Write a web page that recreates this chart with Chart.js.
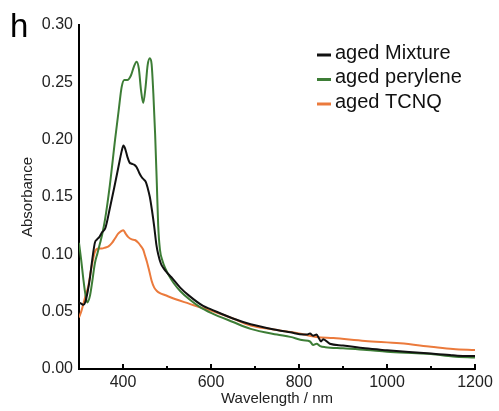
<!DOCTYPE html>
<html lang="en">
<head>
    <meta charset="UTF-8">
    <title>Absorbance spectra</title>
    <script src="https://cdn.jsdelivr.net/npm/chart.js@4.4.0/dist/chart.umd.min.js"></script>
    <style>
        html, body { margin: 0; padding: 0; background: #fff; }
        #wrap { width: 499px; height: 411px; position: relative; }
    </style>
</head>
<body>
    <div id="wrap"><canvas id="absChart"></canvas></div>
    <script>
        // values (wavelength in nm, absorbance)
        const mixtureNm = [300, 305, 310, 314, 320, 325, 330, 336, 341, 346, 352, 360, 370, 380, 390, 397, 401, 405, 410, 415, 420, 426, 431, 437, 443, 448, 452, 456, 461, 466, 471, 476, 480, 486, 492, 500, 510, 530, 550, 582, 600, 650, 690, 750, 780, 810, 818, 825, 832, 840, 845, 850, 855, 870, 900, 950, 1000, 1050, 1100, 1143, 1160, 1200];
        const mixtureAbs = [0.058, 0.057, 0.056, 0.058, 0.068, 0.080, 0.095, 0.110, 0.113, 0.115, 0.119, 0.123, 0.140, 0.158, 0.177, 0.190, 0.195, 0.192, 0.185, 0.180, 0.179, 0.178, 0.176, 0.171, 0.167, 0.165, 0.163, 0.158, 0.150, 0.138, 0.124, 0.108, 0.100, 0.092, 0.088, 0.084, 0.080, 0.071, 0.064, 0.055, 0.052, 0.044, 0.039, 0.034, 0.032, 0.030, 0.030, 0.031, 0.029, 0.030, 0.027, 0.024, 0.026, 0.022, 0.0205, 0.018, 0.0163, 0.0148, 0.0135, 0.0122, 0.0115, 0.0113];

        const peryleneNm = [300, 305, 310, 315, 319, 325, 330, 336, 342, 348, 353, 359, 370, 382, 390, 397, 403, 410, 418, 425, 431, 436, 441, 446, 451, 456, 461, 465, 469, 473, 477, 480, 484, 490, 497, 505, 515, 530, 550, 575, 600, 650, 690, 750, 780, 810, 825, 832, 840, 848, 860, 900, 954, 1000, 1067, 1100, 1150, 1200];
        const peryleneAbs = [0.110, 0.095, 0.078, 0.064, 0.058, 0.064, 0.076, 0.092, 0.101, 0.110, 0.118, 0.130, 0.160, 0.200, 0.225, 0.246, 0.252, 0.252, 0.256, 0.264, 0.268, 0.262, 0.243, 0.232, 0.245, 0.265, 0.271, 0.266, 0.240, 0.205, 0.160, 0.125, 0.104, 0.094, 0.087, 0.081, 0.075, 0.068, 0.061, 0.054, 0.049, 0.041, 0.035, 0.030, 0.028, 0.025, 0.024, 0.021, 0.022, 0.020, 0.019, 0.018, 0.0166, 0.015, 0.0137, 0.013, 0.011, 0.010];

        const tcnqNm = [300, 305, 310, 315, 321, 328, 336, 344, 352, 360, 367, 375, 382, 389, 395, 401, 406, 412, 420, 427, 435, 441, 446, 450, 454, 460, 465, 471, 477, 485, 495, 518, 550, 582, 600, 650, 690, 750, 800, 840, 878, 950, 1030, 1100, 1150, 1200];
        const tcnqAbs = [0.045, 0.050, 0.057, 0.064, 0.072, 0.088, 0.102, 0.105, 0.105, 0.106, 0.107, 0.110, 0.114, 0.118, 0.120, 0.121, 0.118, 0.115, 0.113, 0.1125, 0.110, 0.107, 0.104, 0.099, 0.094, 0.085, 0.077, 0.071, 0.068, 0.066, 0.0645, 0.061, 0.057, 0.053, 0.051, 0.044, 0.038, 0.034, 0.031, 0.028, 0.027, 0.0245, 0.0224, 0.0195, 0.0175, 0.0165];

        const seriesLabels = ['aged Mixture', 'aged perylene', 'aged TCNQ'];
        const seriesColors = ['#111111', '#3d7d36', '#eb7a3c'];
        const xLabelTicks = [400, 600, 800, 1000, 1200];
        const xMinorTicks = [500, 700, 900, 1100];

        const toPoints = (xs, ys) => xs.map((x, i) => ({ x: x, y: ys[i] }));

        const FONT = '"Liberation Sans", Arial, sans-serif';

        // inward x ticks, panel letter and legend
        const decorPlugin = {
            id: 'decor',
            afterDraw(chart) {
                const ctx = chart.ctx;
                const xs = chart.scales.x;
                const area = chart.chartArea;
                ctx.save();
                ctx.strokeStyle = '#000';
                ctx.lineWidth = 2;
                xLabelTicks.forEach(v => {
                    const px = Math.round(xs.getPixelForValue(v));
                    ctx.beginPath();
                    ctx.moveTo(px, area.bottom);
                    ctx.lineTo(px, area.bottom - 5);
                    ctx.stroke();
                });
                xMinorTicks.forEach(v => {
                    const px = Math.round(xs.getPixelForValue(v));
                    ctx.beginPath();
                    ctx.moveTo(px, area.bottom);
                    ctx.lineTo(px, area.bottom - 3);
                    ctx.stroke();
                });

                ctx.fillStyle = '#000';
                ctx.font = '33px ' + FONT;
                ctx.textBaseline = 'alphabetic';
                ctx.textAlign = 'left';
                ctx.fillText('h', 10, 37);

                ctx.font = '20px ' + FONT;
                ctx.textBaseline = 'middle';
                chart.data.datasets.forEach((ds, i) => {
                    const y = 53 + i * 24.5;
                    ctx.strokeStyle = ds.borderColor;
                    ctx.lineWidth = 3;
                    ctx.beginPath();
                    ctx.moveTo(317, y + 2);
                    ctx.lineTo(331, y + 2);
                    ctx.stroke();
                    ctx.fillStyle = '#111';
                    ctx.fillText(ds.label, 335, y);
                });
                ctx.restore();
            }
        };

        const ctx = document.getElementById('absChart').getContext('2d');
        new Chart(ctx, {
            type: 'line',
            data: {
                datasets: [
                    { label: seriesLabels[0], data: toPoints(mixtureNm, mixtureAbs), borderColor: seriesColors[0] },
                    { label: seriesLabels[1], data: toPoints(peryleneNm, peryleneAbs), borderColor: seriesColors[1] },
                    { label: seriesLabels[2], data: toPoints(tcnqNm, tcnqAbs), borderColor: seriesColors[2] }
                ]
            },
            options: {
                responsive: true,
                maintainAspectRatio: false,
                animation: false,
                devicePixelRatio: 1,
                layout: { padding: { left: 0, right: 24, top: 25, bottom: 0 } },
                elements: {
                    point: { radius: 0 },
                    line: { borderWidth: 2, tension: 0.3, cubicInterpolationMode: 'monotone' }
                },
                plugins: {
                    legend: { display: false },
                    tooltip: { enabled: false }
                },
                scales: {
                    x: {
                        type: 'linear',
                        min: 300,
                        max: 1200,
                        afterFit: s => { s.height = 42; },
                        afterBuildTicks: s => { s.ticks = xLabelTicks.map(v => ({ value: v })); },
                        grid: { display: false, drawTicks: false },
                        border: { display: true, color: '#000', width: 2 },
                        ticks: {
                            padding: 4,
                            color: '#222',
                            font: { family: FONT, size: 16 },
                            maxRotation: 0,
                            callback: v => String(v)
                        },
                        title: {
                            display: true,
                            text: 'Wavelength / nm',
                            color: '#222',
                            font: { family: FONT, size: 15 },
                            padding: { top: 0, bottom: 3 }
                        }
                    },
                    y: {
                        min: 0,
                        max: 0.30,
                        afterFit: s => { s.width = 79; },
                        grid: { display: false, drawTicks: false },
                        border: { display: true, color: '#000', width: 2 },
                        ticks: {
                            stepSize: 0.05,
                            padding: 6,
                            color: '#222',
                            font: { family: FONT, size: 16 },
                            callback: v => v.toFixed(2)
                        },
                        title: {
                            display: true,
                            text: 'Absorbance',
                            color: '#222',
                            font: { family: FONT, size: 15 },
                            padding: { top: 19, bottom: 0 }
                        }
                    }
                }
            },
            plugins: [decorPlugin]
        });
    </script>
</body>
</html>
